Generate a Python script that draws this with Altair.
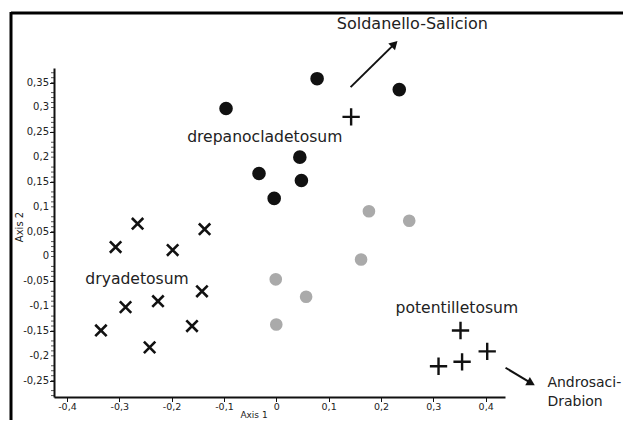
import altair as alt
import pandas as pd

# ---- data ----
black_x = [-0.096, 0.078, 0.045, -0.033, 0.048, -0.004, 0.235]
black_y = [0.298, 0.358, 0.200, 0.167, 0.153, 0.117, 0.336]

grey_x = [0.177, 0.254, 0.162, 0.057, -0.001, 0.000]
grey_y = [0.091, 0.072, -0.006, -0.081, -0.046, -0.137]

xcross_x = [-0.265, -0.137, -0.307, -0.198, -0.142, -0.226, -0.288, -0.335, -0.161, -0.242]
xcross_y = [0.066, 0.055, 0.019, 0.013, -0.070, -0.090, -0.102, -0.149, -0.140, -0.183]

plus_x = [0.143, 0.352, 0.403, 0.355, 0.310]
plus_y = [0.281, -0.149, -0.191, -0.212, -0.221]

label_text = ["drepanocladetosum", "dryadetosum", "potentilletosum"]
label_x = [-0.022, -0.266, 0.345]
label_y = [0.241, -0.045, -0.104]

top_text = ["Soldanello-Salicion"]
top_x = [0.260]
top_y = [0.468]

side_text = ["Androsaci-", "Drabion"]
side_x = [0.518, 0.518]
side_y = [-0.255, -0.292]

arrow_x = [0.142, 0.438]
arrow_y = [0.341, -0.224]
arrow_x2 = [0.226, 0.487]
arrow_y2 = [0.428, -0.255]
arrow_angle = [45, 119]

x_ticks = [round(-0.4 + 0.025 * i, 3) for i in range(34)]
y_major_ticks = [round(-0.25 + 0.05 * i, 2) for i in range(13)]
y_tick_labels = ["-0,25", "-0,2", "-0,15", "-0,1", "-0,05", "0", "0,05",
                 "0,1", "0,15", "0,2", "0,25", "0,3", "0,35"]
y_minor_ticks = [round(-0.28 + 0.01 * i, 2) for i in range(66) if (i + 3) % 5 != 0]

x_title = "Axis 1"
y_title = "Axis 2"

X_DOMAIN = [-0.4247, 0.437]
Y_DOMAIN = [-0.2829, 0.3795]

FONT = "DejaVu Sans"

def df(xs, ys):
    return pd.DataFrame({"x": xs, "y": ys})

xscale = alt.Scale(domain=X_DOMAIN, nice=False, zero=False)
yscale = alt.Scale(domain=Y_DOMAIN, nice=False, zero=False)

x_major = "abs(datum.value*10 - round(datum.value*10)) < 0.000001"

x_axis = alt.Axis(
    values=x_ticks, grid=False, title=None,
    labelExpr=f"({x_major}) ? replace(replace(format(datum.value, '.1~f'), '\u2212', '-'), '.', ',') : ''",
    tickSize={"condition": {"test": x_major, "value": 4.5}, "value": 2.5},
    tickColor="#111", domainColor="#111", domainWidth=2, tickWidth=1,
    labelFont=FONT, labelFontSize=9.5, labelColor="#222", labelPadding=0,
    labelOverlap=False, labelFlush=False,
)
y_axis = alt.Axis(
    values=y_major_ticks, grid=False, title=None, labels=False,
    tickSize=4.5, tickColor="#111", domainColor="#111", domainWidth=2, tickWidth=1,
)

X = alt.X("x:Q", scale=xscale, axis=x_axis)
Y = alt.Y("y:Q", scale=yscale, axis=y_axis)
Xn = alt.X("x:Q", scale=xscale)
Yn = alt.Y("y:Q", scale=yscale)

black = alt.Chart(df(black_x, black_y)).mark_point(
    shape="circle", filled=True, size=185, color="#111", opacity=1
).encode(x=X, y=Y)

grey = alt.Chart(df(grey_x, grey_y)).mark_point(
    shape="circle", filled=True, size=160, color="#aaaaaa", opacity=1
).encode(x=Xn, y=Yn)

xcross = alt.Chart(df(xcross_x, xcross_y)).mark_point(
    shape="M-1,-1L1,1M1,-1L-1,1", filled=False, size=130, color="#111",
    strokeWidth=2.6, opacity=1
).encode(x=Xn, y=Yn)

plus = alt.Chart(df(plus_x, plus_y)).mark_point(
    shape="M-1,0L1,0M0,-1L0,1", filled=False, size=300, color="#111",
    strokeWidth=2.4, opacity=1
).encode(x=Xn, y=Yn)

y_minor = alt.Chart(pd.DataFrame({"y": y_minor_ticks})).mark_tick(
    orient="horizontal", size=3, thickness=1, color="#111"
).encode(y=Yn, x=alt.value(-1.5))

y_labels = alt.Chart(pd.DataFrame({"y": y_major_ticks, "t": y_tick_labels})).mark_text(
    font=FONT, fontSize=10, color="#222", align="right", baseline="middle"
).encode(y=Yn, x=alt.value(-5), text="t:N")

x_title_mark = alt.Chart(pd.DataFrame({"t": [x_title]})).mark_text(
    font=FONT, fontSize=9, color="#222", align="center", baseline="bottom"
).encode(x=alt.value(200), y=alt.value(351.5), text="t:N")

y_title_mark = alt.Chart(pd.DataFrame({"t": [y_title]})).mark_text(
    font=FONT, fontSize=10, color="#222", align="center", baseline="middle", angle=270
).encode(x=alt.value(-34), y=alt.value(159), text="t:N")

labels = alt.Chart(pd.DataFrame({"x": label_x, "y": label_y, "t": label_text})).mark_text(
    font=FONT, fontSize=15.6, color="#222", align="center", baseline="middle"
).encode(x=Xn, y=Yn, text="t:N")

top_label = alt.Chart(pd.DataFrame({"x": top_x, "y": top_y, "t": top_text})).mark_text(
    font=FONT, fontSize=16, color="#222", align="center", baseline="middle"
).encode(x=Xn, y=Yn, text="t:N")

side = alt.Chart(pd.DataFrame({"x": side_x, "y": side_y, "t": side_text})).mark_text(
    font=FONT, fontSize=14, color="#222", align="left", baseline="middle"
).encode(x=Xn, y=Yn, text="t:N")

arrows_df = pd.DataFrame({"x": arrow_x, "y": arrow_y, "x2": arrow_x2, "y2": arrow_y2, "a": arrow_angle})
arrow_lines = alt.Chart(arrows_df).mark_rule(color="#111", strokeWidth=2).encode(
    x=Xn, y=Yn, x2="x2:Q", y2="y2:Q"
)
arrow_heads = alt.Chart(arrows_df).mark_point(
    shape="triangle-up", filled=True, size=90, color="#111", opacity=1
).encode(x=alt.X("x2:Q", scale=xscale), y=alt.Y("y2:Q", scale=yscale),
         angle=alt.Angle("a:Q", scale=None))

frame_top = alt.Chart(pd.DataFrame({"d": [0]})).mark_rule(color="#000", strokeWidth=3).encode(
    x=alt.value(-43), x2=alt.value(600), y=alt.value(-55)
)
frame_left = alt.Chart(pd.DataFrame({"d": [0]})).mark_rule(color="#000", strokeWidth=3).encode(
    x=alt.value(-43), y=alt.value(-56), y2=alt.value(400)
)

chart = alt.layer(
    black, frame_top, frame_left, y_minor, y_labels, x_title_mark, y_title_mark,
    arrow_lines, arrow_heads, grey, xcross, plus, labels, top_label, side
).properties(
    width=451, height=329,
    padding={"left": 46, "top": 60, "right": 118, "bottom": 23},
    autosize=alt.AutoSizeParams(type="none"),
    background="white",
).configure_view(stroke=None)

chart.save("out.html", embed_options={"renderer": "svg", "actions": False})
